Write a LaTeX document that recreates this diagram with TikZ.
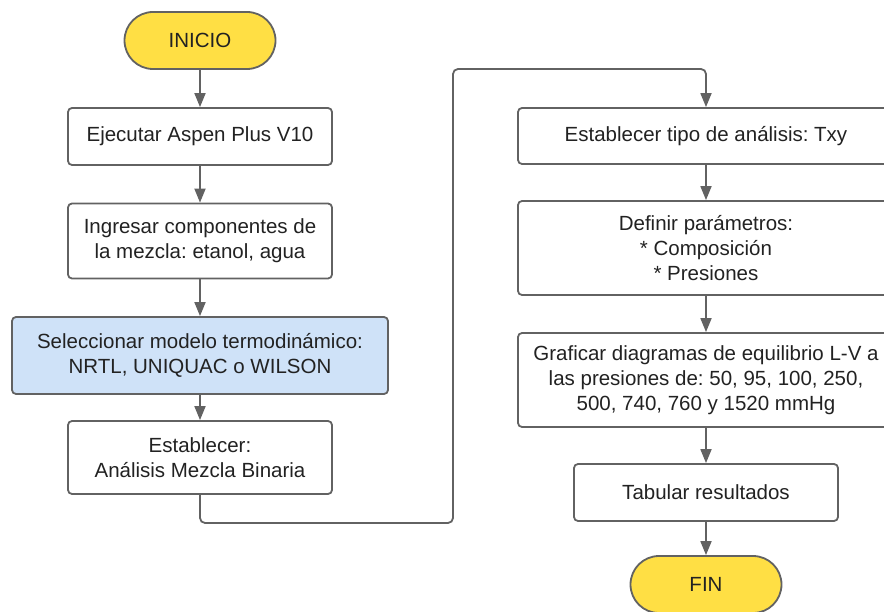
\documentclass[tikz,border=0pt]{standalone}
\usepackage{fontspec}
\setmainfont{Liberation Sans}
\usetikzlibrary{arrows.meta,shapes.misc}
\frenchspacing
\definecolor{edgegray}{HTML}{626262}
\definecolor{termyellow}{HTML}{FFDF44}
\definecolor{selblue}{HTML}{CFE2F8}
\definecolor{txtgray}{HTML}{222222}
\tikzset{
    process/.style={draw=edgegray,line width=1.8pt,rounded corners=4pt,fill=white,
        align=center,text=txtgray,inner sep=0pt,minimum width=264pt},
    highlight/.style={process,fill=selblue,minimum width=376pt},
    wide/.style={process,minimum width=376pt},
    terminal/.style={rounded rectangle,draw=edgegray,line width=1.8pt,fill=termyellow,
        text=txtgray,minimum width=151pt,minimum height=57pt,inner sep=0pt},
    flow/.style={draw=edgegray,line width=1.8pt,-{Triangle[width=11pt,length=14pt]}},
    loopflow/.style={flow,rounded corners=5pt}
}
\begin{document}
\begin{tikzpicture}[x=1pt,y=-1pt,font=\fontsize{20.5}{25}\selectfont]
\useasboundingbox (0,0) rectangle (884,612);
% left column
\node[terminal] (inicio) at (200,40.5) {INICIO};
\node[process,minimum height=57pt] (ejecutar) at (200,136.5) {Ejecutar Aspen Plus V10};
\node[process,minimum height=75pt] (ingresar) at (200,241) {Ingresar componentes de\\la mezcla: etanol, agua};
\node[highlight,minimum height=77pt] (modelo) at (200,355.5) {Seleccionar modelo termodinámico:\\NRTL, UNIQUAC o WILSON};
\node[process,minimum height=73pt] (binaria) at (200,457.5) {Establecer:\\Análisis Mezcla Binaria};
% right column
\node[wide,minimum height=56pt] (tipo) at (706,136) {Establecer tipo de análisis: Txy};
\node[wide,minimum height=94pt] (param) at (706,248) {Definir parámetros:\\* Composición\\* Presiones};
\node[wide,minimum height=94pt] (graficar) at (706,380) {Graficar diagramas de equilibrio L-V a\\las presiones de: 50, 95, 100, 250,\\500, 740, 760 y 1520 mmHg};
\node[process,minimum height=57pt] (tabular) at (706,492.5) {Tabular resultados};
\node[terminal] (fin) at (706,584.5) {FIN};
% connectors
\draw[flow](inicio)--(ejecutar);
\draw[flow](ejecutar)--(ingresar);
\draw[flow](ingresar)--(modelo);
\draw[flow](modelo)--(binaria);
\coordinate (bajo) at (453,523);
\coordinate (alto) at (453,69);
\draw[loopflow](binaria.south)|-(bajo)--(alto)-|(tipo.north);
\draw[flow](tipo)--(param);
\draw[flow](param)--(graficar);
\draw[flow](graficar)--(tabular);
\draw[flow](tabular)--(fin);
\end{tikzpicture}
\end{document}
